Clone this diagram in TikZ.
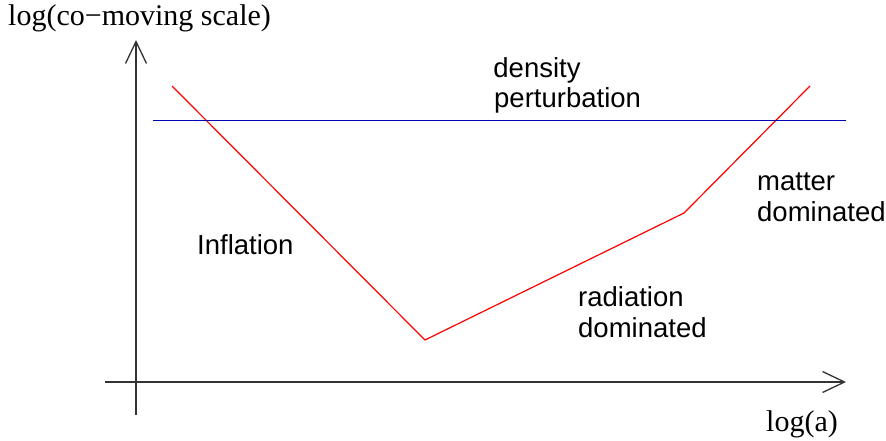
\documentclass[tikz,border=0pt]{standalone}
\usepackage{fontspec}
\setmainfont{Liberation Serif}
\newfontfamily\lblfont{Liberation Sans}
\usetikzlibrary{arrows.meta}
\begin{document}
\begin{tikzpicture}[x=1pt,y=-1pt,
  axis/.style={line width=1.3pt,black!80,-{Straight Barb[length=22pt,width=21pt,line width=1.3pt]}},
  axlbl/.style={inner sep=0pt,font=\fontsize{30}{36}\selectfont},
  lbl/.style={inner sep=0pt,font=\lblfont\fontsize{27.5}{33}\selectfont,align=left},
  curve/.style={red,line width=1.2pt,line join=miter},
  pert/.style={blue!70!black,line width=1pt}]
\useasboundingbox (0,0) rectangle (886,441);
\coordinate (yb) at (136,415);
\coordinate (yt) at (136,40);
\coordinate (xl) at (105,382);
\coordinate (xr) at (846,382);
\draw[axis] (yb) -- (yt);
\draw[axis] (xl) -- (xr);
\coordinate (p1) at (172,86);
\coordinate (p2) at (425,340);
\coordinate (p3) at (684,213);
\coordinate (p4) at (810,86);
\draw[curve] (p1) -- (p2) -- (p3) -- (p4);
\coordinate (b1) at (153,121);
\coordinate (b2) at (846,121);
\draw[pert] (b1) -- (b2);
\node[axlbl,anchor=west] (ylab) at (8,18) {log(co−moving scale)};
\node[axlbl,anchor=east] (xlab) at (838,424) {log(a)};
\node[lbl,anchor=center] (dens) at (537,70) {density};
\node[lbl,anchor=west] (pt) at (494,100) {perturbation};
\node[lbl,anchor=west] (inf) at (197,245) {Inflation};
\node[lbl,anchor=west] (rad) at (578,297) {radiation};
\node[lbl,anchor=west] (raddom) at (578,328) {dominated};
\node[lbl,anchor=west] (mat) at (757,182) {matter};
\node[lbl,anchor=west] (matdom) at (757,212) {dominated};
\end{tikzpicture}
\end{document}
